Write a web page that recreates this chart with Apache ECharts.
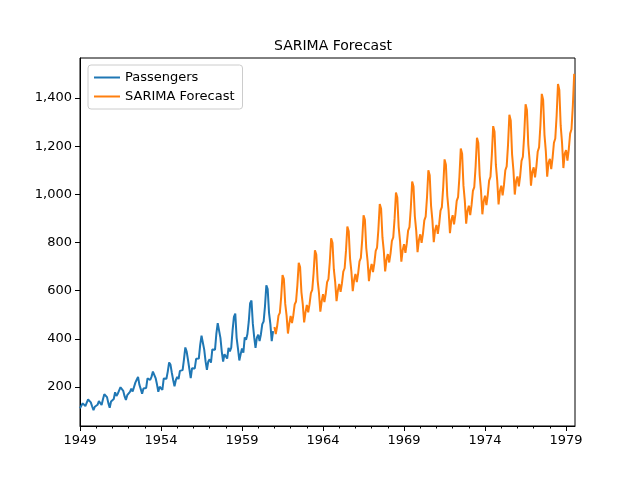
<!DOCTYPE html>
<html>
<head>
<meta charset="utf-8">
<script src="https://cdn.jsdelivr.net/npm/echarts@6/dist/echarts.min.js"></script>
<style>html,body{margin:0;padding:0;background:#fff}#chart{width:640px;height:480px}</style>
</head>
<body>
<div id="chart"></div>
<script>
// monthly passengers 1949-01 .. 1960-12
var passengers = [
  112,118,132,129,121,135,148,148,136,119,104,118,
  115,126,141,135,125,149,170,170,158,133,114,140,
  145,150,178,163,172,178,199,199,184,162,146,166,
  171,180,193,181,183,218,230,242,209,191,172,194,
  196,196,236,235,229,243,264,272,237,211,180,201,
  204,188,235,227,234,264,302,293,259,229,203,229,
  242,233,267,269,270,315,364,347,312,274,237,278,
  284,277,317,313,318,374,413,405,355,306,271,306,
  315,301,356,348,355,422,465,467,404,347,305,336,
  340,318,362,348,363,435,491,505,404,359,310,337,
  360,342,406,396,420,472,548,559,463,407,362,405,
  417,391,419,461,472,535,622,606,508,461,390,432
];
// SARIMA forecast 1961-01 .. 1979-07
var forecast = [
  449,420,452,496,508,574,665,648,545,496,422,464,
  495,465,498,543,555,623,716,698,593,543,468,510,
  541,510,544,590,603,673,768,750,642,590,513,556,
  585,553,587,635,648,719,817,799,688,635,556,601,
  628,595,630,679,693,766,866,847,733,679,598,644,
  669,636,672,722,736,811,913,894,777,722,639,686,
  711,677,714,765,779,855,960,940,821,765,680,728,
  752,717,755,807,821,900,1007,987,865,807,720,769,
  793,757,795,849,864,943,1053,1032,908,849,760,810,
  834,798,837,892,907,988,1100,1079,952,892,801,852,
  873,836,876,932,947,1031,1145,1123,994,932,839,892,
  913,875,916,973,988,1073,1190,1168,1036,973,878,932,
  953,914,956,1014,1030,1116,1235,1213,1078,1014,917,972,
  994,955,998,1057,1073,1162,1283,1260,1122,1057,958,1014,
  1036,996,1039,1100,1116,1206,1330,1307,1166,1100,999,1056,
  1074,1033,1077,1139,1156,1248,1374,1350,1207,1139,1036,1094,
  1112,1070,1115,1178,1195,1289,1417,1393,1247,1178,1073,1132,
  1147,1105,1151,1214,1232,1327,1458,1433,1285,1214,1109,1169,
  1183,1140,1187,1252,1270,1367,1500
];
var yearLabels = [1949,1954,1959,1964,1969,1974,1979];
var yearMinor = [];
for (var y = 1949; y <= 1979; y++) yearMinor.push(y);
var yTicks = [200,400,600,800,1000,1200,1400];

function toPoints(values, startYear) {
  return values.map(function (v, i) { return [startYear + i / 12, v]; });
}

var font = 'DejaVu Sans';
var xMin = 1949, xMax = 1979.55;

echarts.init(document.getElementById('chart')).setOption({
  animation: false,
  textStyle: {fontFamily: font},
  title: {
    text: 'SARIMA Forecast', left: 328, top: 34, textAlign: 'center',
    textStyle: {fontFamily: font, fontSize: 14, fontWeight: 'normal', color: '#000'}
  },
  legend: {
    left: 88, top: 65, orient: 'vertical', itemGap: 6, itemWidth: 26, itemHeight: 2,
    padding: [6, 8, 6, 6], borderColor: '#ccc', borderWidth: 1, borderRadius: 3,
    icon: 'rect',
    textStyle: {fontFamily: font, fontSize: 13, color: '#000'},
    data: ['Passengers', 'SARIMA Forecast']
  },
  grid: {left: 80, right: 65, top: 58, bottom: 54, show: true, borderColor: '#000', borderWidth: 1},
  xAxis: [{
    type: 'value', min: xMin, max: xMax,
    axisLine: {lineStyle: {color: '#000'}},
    splitLine: {show: false},
    axisTick: {customValues: yearLabels, length: 5, lineStyle: {color: '#000'}},
    axisLabel: {customValues: yearLabels, color: '#000', fontSize: 13, fontFamily: font,
      formatter: function (v) { return String(Math.round(v)); }}
  }, {
    type: 'value', min: xMin, max: xMax, position: 'bottom',
    axisLine: {show: false}, splitLine: {show: false},
    axisTick: {customValues: yearMinor, length: 2.5, inside: false, lineStyle: {color: '#000'}},
    axisLabel: {show: false}
  }],
  yAxis: {
    type: 'value', min: 38, max: 1566,
    axisLine: {show: true, lineStyle: {color: '#000'}},
    splitLine: {show: false},
    axisTick: {show: true, customValues: yTicks, length: 5, lineStyle: {color: '#000'}},
    axisLabel: {customValues: yTicks, color: '#000', fontSize: 13, fontFamily: font}
  },
  series: [{
    name: 'Passengers', type: 'line', showSymbol: false, color: '#1f77b4',
    lineStyle: {width: 2}, data: toPoints(passengers, 1949)
  }, {
    name: 'SARIMA Forecast', type: 'line', showSymbol: false, color: '#ff7f0e',
    lineStyle: {width: 2}, data: toPoints(forecast, 1961)
  }]
});
</script>
</body>
</html>
